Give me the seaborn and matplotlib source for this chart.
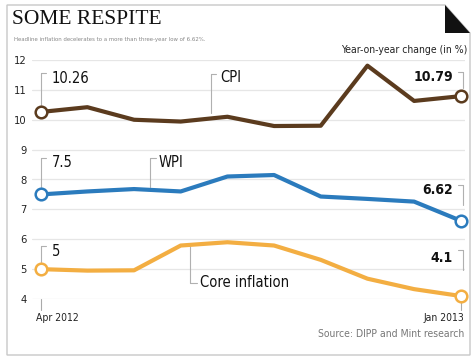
import pandas as pd
import matplotlib.pyplot as plt
import seaborn as sns
from matplotlib.patches import Polygon

months = ['Apr 2012', 'May 2012', 'Jun 2012', 'Jul 2012', 'Aug 2012',
          'Sep 2012', 'Oct 2012', 'Nov 2012', 'Dec 2012', 'Jan 2013']
cpi = [10.26, 10.42, 10.0, 9.94, 10.1, 9.79, 9.8, 11.81, 10.63, 10.79]
wpi = [7.5, 7.6, 7.68, 7.6, 8.1, 8.15, 7.43, 7.35, 7.26, 6.62]
core = [5.0, 4.95, 4.96, 5.79, 5.9, 5.79, 5.31, 4.68, 4.33, 4.1]
yticks = [4, 5, 6, 7, 8, 9, 10, 11, 12]

colors = {'CPI': '#5b3b1e', 'WPI': '#2b7bbd', 'Core inflation': '#f3ae42'}

W, H = 474, 362


def fx(px):
    return px / W


def fy(py):
    return 1 - py / H


df = pd.DataFrame({'idx': list(range(len(months))) * 3,
                   'value': cpi + wpi + core,
                   'series': ['CPI'] * len(cpi) + ['WPI'] * len(wpi) + ['Core inflation'] * len(core)})

sns.set_style('white')
plt.rcParams['font.family'] = ['DejaVu Sans']
plt.rcParams['font.stretch'] = 'condensed'

fig = plt.figure(figsize=(W / 100, H / 100), dpi=100)
ax = fig.add_axes([fx(32), fy(299), fx(465) - fx(32), fy(60) - fy(299)])

sns.lineplot(data=df, x='idx', y='value', hue='series', palette=colors,
             linewidth=3, legend=False, ax=ax, zorder=3)

# open circles at the first and last point of each series
ends = df[df['idx'].isin([0, len(months) - 1])]
for name, grp in ends.groupby('series'):
    ax.scatter(grp['idx'], grp['value'], s=70, facecolor='white',
               edgecolor=colors[name], linewidth=1.8, zorder=5, clip_on=False)

ax.set_xlim(-0.186, 9.09)
ax.set_ylim(4, 12)
ax.set_yticks(yticks)
ax.set_yticklabels([str(t) for t in yticks], fontsize=8, color='#222222')
ax.grid(axis='y', color='#e6e6e6', linewidth=0.9)
ax.set_xticks(range(len(months)))
ax.set_xticklabels([''] * len(months))
ax.tick_params(axis='x', length=4, color='#aaaaaa', width=0.8)
ax.tick_params(axis='y', length=0, pad=4)
for s in ax.spines.values():
    s.set_visible(False)
ax.set_xlabel('')
ax.set_ylabel('')

# longer ticks and labels at the ends
for i, ha, dx in [(0, 'left', -0.09), (len(months) - 1, 'right', 0.07)]:
    ax.plot([i, i], [4, 3.64], color='#aaaaaa', lw=0.8, clip_on=False)
    ax.text(i + dx, 3.35, months[i], ha=ha, va='center', fontsize=7.5, color='#222222')

lc = '#b0b0b0'
fs = 10.5


def leader(x, y0, y1, dx):
    ax.plot([x, x], [y0, y1], color=lc, lw=0.8, clip_on=False)
    ax.plot([x, x + dx], [y1, y1], color=lc, lw=0.8, clip_on=False)


# left value labels
leader(0, cpi[0] + 0.25, 11.57, 0.12)
ax.text(0.24, 11.38, f'{cpi[0]:g}', fontsize=fs, va='center', color='#111111')
leader(0, wpi[0] + 0.25, 8.72, 0.12)
ax.text(0.24, 8.57, f'{wpi[0]:g}', fontsize=fs, va='center', color='#111111')
leader(0, core[0] + 0.25, 5.76, 0.12)
ax.text(0.24, 5.59, f'{core[0]:g}', fontsize=fs, va='center', color='#111111')

# series names
leader(3.64, 10.23, 11.53, 0.12)
ax.text(3.84, 11.43, 'CPI', fontsize=fs, va='center', color='#111111')
leader(2.34, 7.75, 8.72, 0.12)
ax.text(2.52, 8.56, 'WPI', fontsize=fs, va='center', color='#111111')
leader(3.2, 5.76, 4.54, 0.15)
ax.text(3.42, 4.54, 'Core inflation', fontsize=fs, va='center', color='#111111')

# right value labels
n = len(months) - 1
leader(n + 0.05, cpi[n] + 0.28, 11.6, -0.12)
ax.text(8.83, 11.44, f'{cpi[n]:g}', fontsize=10, fontweight='bold', ha='right', va='center', color='#111111')
leader(n + 0.05, 7.15, 7.82, -0.12)
ax.text(8.83, 7.65, f'{wpi[n]:g}', fontsize=10, fontweight='bold', ha='right', va='center', color='#111111')
leader(n + 0.05, 4.98, 5.65, -0.12)
ax.text(8.83, 5.37, f'{core[n]:g}', fontsize=10, fontweight='bold', ha='right', va='center', color='#111111')

# frame with folded corner
frame = Polygon([(fx(7), fy(5)), (fx(445), fy(5)), (fx(470), fy(33)),
                 (fx(470), fy(355)), (fx(7), fy(355))], closed=True,
                fill=False, edgecolor='#c8c8c8', lw=1, transform=fig.transFigure)
fig.patches.append(frame)
corner = Polygon([(fx(445), fy(5)), (fx(445), fy(33)), (fx(470), fy(33))],
                 closed=True, facecolor='#111111', edgecolor='none', transform=fig.transFigure)
fig.patches.append(corner)

fig.text(fx(12), fy(20), 'SOME RESPITE', family='Liberation Serif', fontsize=15.5,
         va='center', color='#111111')
fig.text(fx(14), fy(39), 'Headline inflation decelerates to a more than three-year low of 6.62%.',
         fontsize=4.3, va='center', color='#888888')
fig.text(fx(467), fy(50), 'Year-on-year change (in %)', fontsize=7.5, ha='right',
         va='center', color='#222222')
fig.text(fx(464), fy(334), 'Source: DIPP and Mint research', fontsize=7.5, ha='right',
         va='center', color='#777777')

fig.savefig('out.png', dpi=100)
